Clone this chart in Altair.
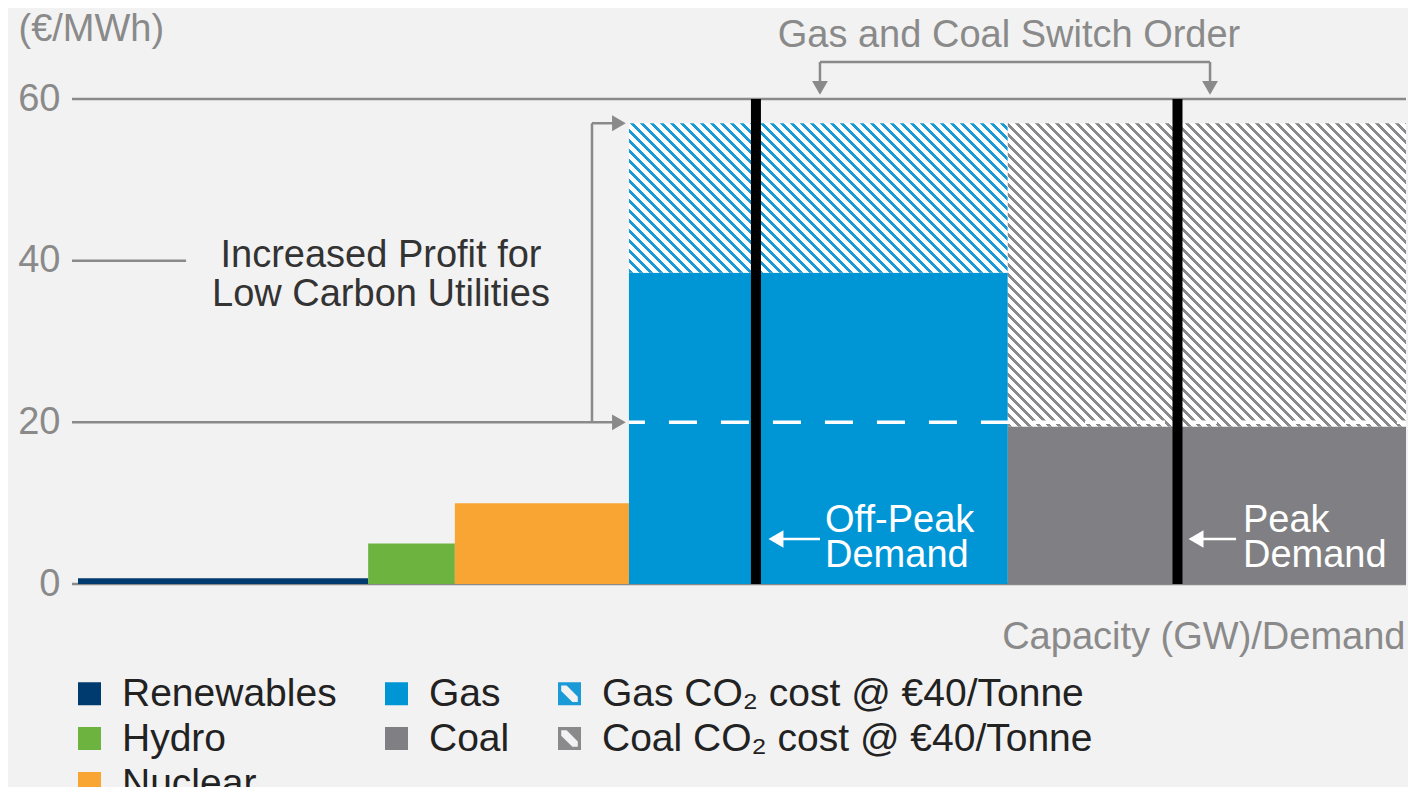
import altair as alt
import pandas as pd
import numpy as np

# ---------------- data ----------------
fuels = ["Renewables", "Hydro", "Nuclear", "Gas", "Coal"]
fuel_colors = ["#003b6f", "#6db33f", "#f9a533", "#0096d6", "#807f83"]
cap_start = [0.45, 22.2, 28.7, 41.75, 70.15]      # capacity, GW (relative)
cap_end = [22.2, 28.7, 41.75, 70.15, 100.0]
fuel_cost = [0.7, 5.0, 10.0, 38.5, 19.5]          # €/MWh

co2_labels = ["Gas CO₂ cost @ €40/Tonne", "Coal CO₂ cost @ €40/Tonne"]
co2_start = [41.75, 70.15]
co2_end = [70.15, 100.0]
co2_base = [38.5, 19.5]
co2_cost = [18.5, 37.5]

switch_level = 20.0
off_peak_demand = 51.27
peak_demand = 82.87
y_ticks = [0, 20, 40, 60]

legend_order = ["Renewables", "Gas", co2_labels[0], "Hydro", "Coal", co2_labels[1], "Nuclear"]
legend_colors = ["#003b6f", "#0096d6", "#1a9ad6", "#6db33f", "#807f83", "#8a8a8c", "#f9a533"]
HATCH_PATH = ("M-1,-1H1V1H-1Z M-0.72,-0.72V0.72H0.72V-0.72Z "
              "M-0.25,-0.72H0.72V0.25Z M-0.72,-0.25L0.25,0.72H-0.72Z")
legend_shapes = ["square", "square", HATCH_PATH, "square", "square", HATCH_PATH, "square"]

# annotation geometry (data units)
gray_rules = {
    "x":  [0, 0, 0, 0, 38.98, 38.98, 56.07, 56.07, 85.31],
    "x2": [100, 100, 8.55, 40.6, 38.98, 40.6, 85.31, 56.07, 85.31],
    "y":  [0, 60, 40, 20, 20, 57, 64.58, 61.4, 61.4],
    "y2": [0, 60, 40, 20, 57, 57, 64.58, 64.58, 64.58],
}
gray_heads = {"x": [41.0, 41.0, 56.07, 85.31], "y": [20, 57, 61.37, 61.37],
              "shape": ["triangle-right", "triangle-right", "triangle-down", "triangle-down"]}
white_shafts = {"x": [52.9, 84.4], "x2": [56.07, 87.26], "y": [5.57, 5.57]}
white_heads = {"x": [52.77, 84.26], "y": [5.57, 5.57]}

dark_text = {"x": [23.16, 23.16], "y": [40.6, 35.7],
             "text": ["Increased Profit for", "Low Carbon Utilities"]}
gray_text = {"x": [70.24], "y": [67.8], "text": ["Gas and Coal Switch Order"]}
white_text = {"x": [56.45, 56.45, 87.78, 87.78], "y": [7.8, 3.5, 7.8, 3.5],
              "text": ["Off-Peak", "Demand", "Peak", "Demand"]}

# ---------------- layout ----------------
W, H = 1334, 485
PX_X, PX_Y = W / 100.0, H / 60.0
FONT = "Liberation Sans"
GRAY = "#8a8a8a"

xs = alt.Scale(domain=[0, 100], nice=False, zero=False)
ys = alt.Scale(domain=[0, 60], nice=False)
fill_scale = alt.Scale(domain=legend_order, range=legend_colors)
shape_scale = alt.Scale(domain=legend_order, range=legend_shapes)


def hatch(color, w_px, h_px, period=10.0, duty=0.45):
    n = (w_px + h_px) / period
    a = w_px * (w_px + h_px) / (w_px ** 2 + h_px ** 2)
    k = w_px / h_px
    stops = []
    for i in range(int(np.ceil(n))):
        s0 = i / n
        s1 = min((i + duty) / n, 1.0)
        s2 = min((i + 1) / n, 1.0)
        stops += [(s0, color), (s1, color), (s1, "#ffffff"), (s2, "#ffffff")]
    return alt.LinearGradient(
        gradient="linear",
        stops=[alt.GradientStop(offset=float(o), color=c) for o, c in stops],
        x1=0, y1=1, x2=float(a), y2=float(1 - a / k),
    )


bars_df = pd.DataFrame({"series": fuels, "color": fuel_colors, "x": cap_start, "x2": cap_end,
                        "y": [0.0] * len(fuels), "y2": fuel_cost})
co2_df = pd.DataFrame({"series": co2_labels, "x": co2_start, "x2": co2_end,
                       "y": co2_base, "y2": [b + c for b, c in zip(co2_base, co2_cost)]})
legend_df = pd.DataFrame({"series": legend_order, "x": [55.0] * 7, "y": [30.0] * 7})

X_AX = alt.Axis(title="Capacity (GW)/Demand", labels=False, ticks=False, domain=False,
                grid=False, titleX=W - 1, titleY=53, titleAlign="right",
                titleBaseline="middle", titleFontSize=38, titleFontWeight="normal",
                titleColor=GRAY, titleFont=FONT)
Y_AX = alt.Axis(title="(€/MWh)", values=y_ticks, ticks=False, domain=False,
                grid=False, labelPadding=12, labelFontSize=38, labelColor=GRAY,
                labelFont=FONT, titleAngle=0, titleAlign="left", titleBaseline="middle",
                titleX=-54, titleY=-70, titleFontSize=38, titleFontWeight="normal",
                titleColor=GRAY, titleFont=FONT)

LEG = alt.Legend(title=None, orient="none", direction="horizontal", legendX=-2, legendY=575,
                 columns=3, columnPadding=40, rowPadding=5, symbolSize=529,
                 symbolStrokeWidth=0, symbolOpacity=1, labelFontSize=39,
                 labelColor="#222222", labelFont=FONT, labelOffset=13, labelLimit=700,
                 padding=0)


def xy(xfield="x", yfield="y"):
    return dict(x=alt.X(f"{xfield}:Q", scale=xs, axis=X_AX),
                y=alt.Y(f"{yfield}:Q", scale=ys, axis=Y_AX))


rules_layer = alt.Chart(pd.DataFrame(gray_rules)).mark_rule(color=GRAY, strokeWidth=2.5).encode(
    **xy(), x2="x2:Q", y2="y2:Q",
)

legend_layer = alt.Chart(legend_df).mark_point(filled=True, size=20, opacity=1).encode(
    **xy(),
    fill=alt.Fill("series:N", scale=fill_scale, legend=LEG),
    shape=alt.Shape("series:N", scale=shape_scale, legend=LEG),
)

bars_layer = alt.Chart(bars_df).mark_rect().encode(
    **xy(), x2="x2:Q", y2="y2:Q",
    fill=alt.Fill("color:N", scale=None),
)

hatch_layers = []
for i, col in enumerate(["#1a9ad6", "#8a8a8c"]):
    w_px = (co2_end[i] - co2_start[i]) * PX_X
    h_px = co2_cost[i] * PX_Y
    hatch_layers.append(
        alt.Chart(co2_df.iloc[[i]]).mark_rect(fill=hatch(col, w_px, h_px)).encode(
            **xy(), x2="x2:Q", y2="y2:Q",
        )
    )

dash_layer = alt.Chart(pd.DataFrame({"x": [co2_start[0]], "x2": [co2_end[1]],
                                     "y": [switch_level]})).mark_rule(
    color="white", strokeWidth=3.5, strokeDash=[28, 24], strokeDashOffset=12).encode(
    **xy(), x2="x2:Q",
)

demand_layer = alt.Chart(pd.DataFrame({"x": [off_peak_demand, peak_demand],
                                       "y": [0, 0], "y2": [60, 60]})).mark_rule(
    color="black", strokeWidth=10).encode(
    **xy(), y2="y2:Q",
)

gray_heads_layer = alt.Chart(pd.DataFrame(gray_heads)).mark_point(
    filled=True, color=GRAY, size=250, opacity=1).encode(
    **xy(),
    shape=alt.Shape("shape:N", scale=None),
)

white_shaft_layer = alt.Chart(pd.DataFrame(white_shafts)).mark_rule(
    color="white", strokeWidth=2.5).encode(
    **xy(), x2="x2:Q",
)

white_heads_layer = alt.Chart(pd.DataFrame(white_heads)).mark_point(
    filled=True, color="white", size=300, opacity=1, shape="triangle-left").encode(
    **xy(),
)


def text_layer(d, color, align):
    return alt.Chart(pd.DataFrame(d)).mark_text(
        font=FONT, fontSize=38, color=color, align=align, baseline="middle").encode(
        **xy(), text="text:N",
    )


chart = alt.layer(
    rules_layer, legend_layer, bars_layer, *hatch_layers, dash_layer, demand_layer,
    gray_heads_layer, white_shaft_layer, white_heads_layer,
    text_layer(dark_text, "#333333", "center"),
    text_layer(gray_text, GRAY, "center"),
    text_layer(white_text, "white", "left"),
).properties(
    width=W, height=H,
    autosize=alt.AutoSizeParams(type="none"),
    padding={"left": 64, "top": 91, "right": 2, "bottom": 203},
    background="#f2f2f2",
).configure_view(stroke=None)

chart.save("out.html", embed_options={"renderer": "svg", "actions": False})
